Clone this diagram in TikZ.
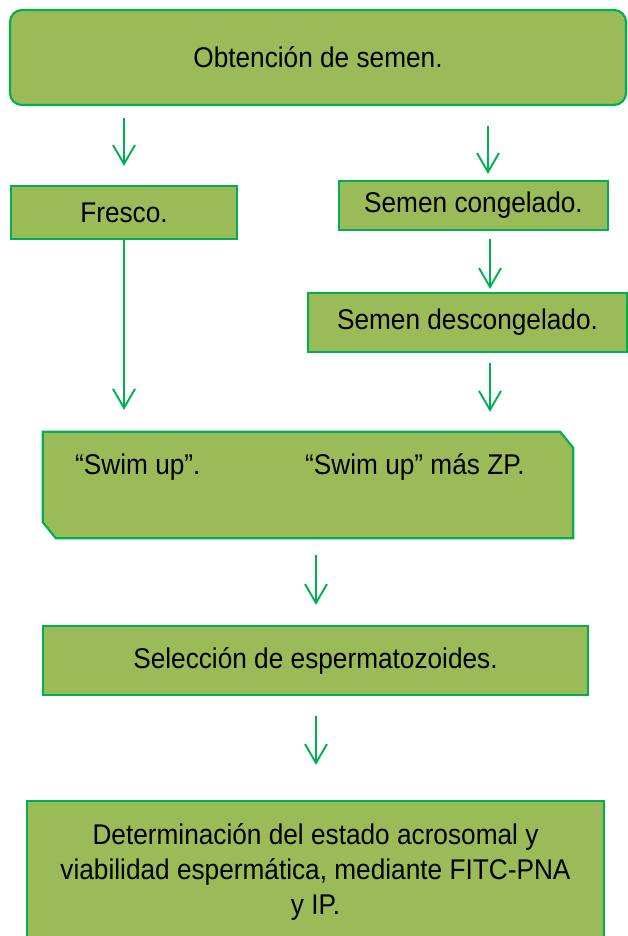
\documentclass[tikz,border=0pt]{standalone}
\usepackage{fontspec}
\setmainfont{Liberation Sans}[FakeStretch=0.92]
\usetikzlibrary{arrows.meta,calc}
\definecolor{boxfill}{HTML}{9BBB59}
\definecolor{boxline}{HTML}{00B050}
\begin{document}
\begin{tikzpicture}[x=1pt,y=-1pt,
  txt/.style={font=\fontsize{28.5}{35}\selectfont, text=black},
  box/.style={draw=boxline, line width=2.2pt, fill=boxfill, inner sep=0pt, txt},
  flow/.style={draw=boxline, line width=1.9pt, -{Straight Barb[length=19pt,width=22pt]}}]
\useasboundingbox (0,0) rectangle (628,936);
% boxes
\node[box, rounded corners=12pt, minimum width=616pt, minimum height=95pt] (top) at (318,57.5) {Obtención de semen.};
\node[box, minimum width=226pt, minimum height=53pt] (fresco) at (124,212.5) {Fresco.};
\node[box, minimum width=269pt, minimum height=49pt] (cong) at (473.5,205.5) {Semen congelado.};
\node[box, minimum width=319pt, minimum height=59pt] (desc) at (467.5,322.5) {Semen descongelado.};
\node[inner sep=0pt, minimum width=530pt, minimum height=106pt] (swim) at (308,485) {};
\draw[draw=boxline, line width=2.2pt, fill=boxfill]
  (swim.north west) -- ($(swim.north east)+(-13,0)$) -- ($(swim.north east)+(0,16)$)
  -- (swim.south east) -- ($(swim.south west)+(13,0)$) -- ($(swim.south west)+(0,-16)$) -- cycle;
\node[txt, anchor=west, inner sep=0pt] (swimA) at (75,467) {“Swim up”.};
\node[txt, anchor=west, inner sep=0pt] (swimB) at (305,467) {“Swim up” más ZP.};
\node[box, minimum width=545pt, minimum height=69pt] (sel) at (315.5,660.5) {Selección de espermatozoides.};
\node[box, minimum width=577pt, minimum height=142pt, align=center] (last) at (315.5,872)
  {Determinación del estado acrosomal y\\viabilidad espermática, mediante FITC-PNA\\y IP.};
% arrow columns
\coordinate (ax) at (488,0);
\coordinate (bx) at (490,0);
\coordinate (cx) at (316,0);
% connectors
\draw[flow, shorten <=12pt, shorten >=19pt] (top.south -| fresco.south) -- (fresco.north);
\draw[flow, shorten <=20pt, shorten >=6pt] (top.south -| ax) -- (cong.north -| ax);
\draw[flow, shorten <=8pt, shorten >=3pt] (cong.south -| bx) -- (desc.north -| bx);
\draw[flow, shorten <=10pt, shorten >=20pt] (desc.south -| bx) -- (swim.north -| bx);
\draw[flow, shorten >=22pt] (fresco.south) -- (swim.north -| fresco.south);
\draw[flow, shorten <=17pt, shorten >=20pt] (swim.south -| cx) -- (sel.north -| cx);
\draw[flow, shorten <=20pt, shorten >=35pt] (sel.south -| cx) -- (last.north -| cx);
\end{tikzpicture}
\end{document}
